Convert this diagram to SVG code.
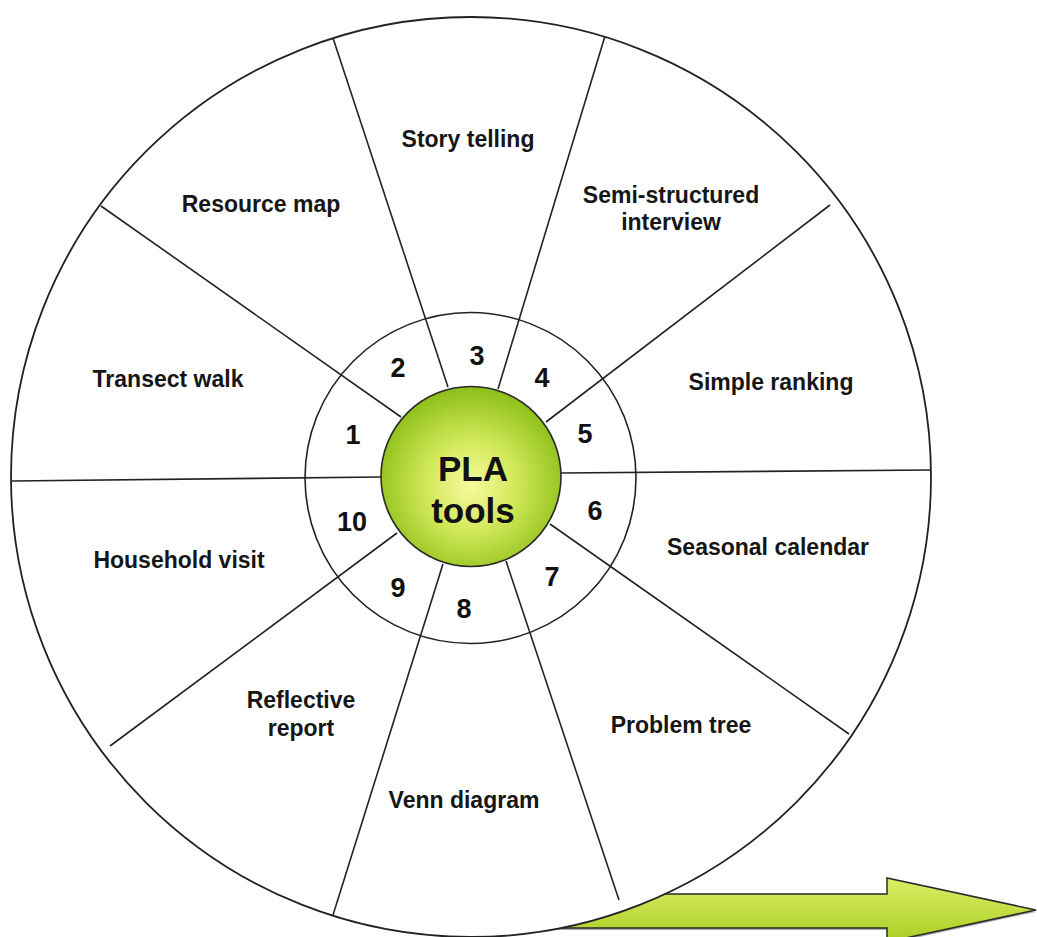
<svg xmlns="http://www.w3.org/2000/svg" width="1037" height="937" viewBox="0 0 1037 937">
  <defs>
    <radialGradient id="hub" cx="0.5" cy="0.55" r="0.55">
      <stop offset="0" stop-color="#f6fa9f"/>
      <stop offset="0.45" stop-color="#d3e95a"/>
      <stop offset="1" stop-color="#8cbf18"/>
    </radialGradient>
    <linearGradient id="arrowFill" x1="0" y1="0" x2="0" y2="1">
      <stop offset="0" stop-color="#dcee66"/>
      <stop offset="1" stop-color="#aacd22"/>
    </linearGradient>
    <style>
      .spoke { stroke: #222; stroke-width: 1.6; fill: none; }
      .ring { stroke: #222; stroke-width: 1.6; fill: none; }
      .label { font-family: "Liberation Sans", Arial, sans-serif; font-weight: bold; font-size: 23px; fill: #161616; text-anchor: middle; }
      .num { font-family: "Liberation Sans", Arial, sans-serif; font-weight: bold; font-size: 27px; fill: #111; text-anchor: middle; }
      .hubtext { font-family: "Liberation Sans", Arial, sans-serif; font-weight: bold; font-size: 35px; fill: #111; text-anchor: middle; }
    </style>
  </defs>
  <rect width="1037" height="937" fill="#ffffff"/>

  <g id="arrow">
    <path d="M400,896 L887,896 L887,880 L1036,912 L887,944 L887,930 L400,930 Z" fill="#555" opacity="0.5"/>
    <path d="M400,894 L887,894 L887,878 L1036,910 L887,942 L887,928 L400,928 Z" fill="url(#arrowFill)" stroke="#2a2a2a" stroke-width="1.5" stroke-linejoin="miter"/>
  </g>

  <g id="outer-wheel">
    <circle cx="471" cy="477" r="460" fill="#ffffff" stroke="#222" stroke-width="1.8"/>
  </g>

  <g id="connectors">
    <line class="spoke" x1="381" y1="477" x2="12" y2="481"/>
    <line class="spoke" x1="561" y1="473" x2="930" y2="470"/>
    <line class="spoke" x1="401" y1="417" x2="101" y2="206"/>
    <line class="spoke" x1="448" y1="387" x2="333" y2="38"/>
    <line class="spoke" x1="498" y1="389" x2="605" y2="36"/>
    <line class="spoke" x1="546" y1="422" x2="830" y2="205"/>
    <line class="spoke" x1="550" y1="524" x2="849" y2="734"/>
    <line class="spoke" x1="506" y1="561" x2="619" y2="900"/>
    <line class="spoke" x1="443" y1="564" x2="333" y2="915"/>
    <line class="spoke" x1="397" y1="533" x2="110" y2="746"/>
  </g>

  <g id="inner-ring">
    <circle class="ring" cx="470.5" cy="478" r="165.5"/>
  </g>

  <g id="hub">
    <circle cx="471" cy="476.5" r="90" fill="url(#hub)" stroke="#2a2a2a" stroke-width="1.6"/>
    <text class="hubtext" x="473" y="481">PLA</text>
    <text class="hubtext" x="473" y="523">tools</text>
  </g>

  <g id="numbers">
    <text class="num" x="353" y="444">1</text>
    <text class="num" x="398" y="377">2</text>
    <text class="num" x="477" y="365">3</text>
    <text class="num" x="542" y="387">4</text>
    <text class="num" x="585" y="443">5</text>
    <text class="num" x="595" y="520">6</text>
    <text class="num" x="552" y="586">7</text>
    <text class="num" x="464" y="618">8</text>
    <text class="num" x="398" y="597">9</text>
    <text class="num" x="352" y="531">10</text>
  </g>

  <g id="node-transect"><text class="label" x="168" y="387">Transect walk</text></g>
  <g id="node-resource"><text class="label" x="261" y="212">Resource map</text></g>
  <g id="node-story"><text class="label" x="468" y="147">Story telling</text></g>
  <g id="node-semi"><text class="label" x="671" y="203">Semi-structured</text><text class="label" x="671" y="230">interview</text></g>
  <g id="node-ranking"><text class="label" x="771" y="390">Simple ranking</text></g>
  <g id="node-seasonal"><text class="label" x="768" y="555">Seasonal calendar</text></g>
  <g id="node-problem"><text class="label" x="681" y="733">Problem tree</text></g>
  <g id="node-venn"><text class="label" x="464" y="808">Venn diagram</text></g>
  <g id="node-reflective"><text class="label" x="301" y="708">Reflective</text><text class="label" x="301" y="736">report</text></g>
  <g id="node-household"><text class="label" x="179" y="568">Household visit</text></g>
</svg>
